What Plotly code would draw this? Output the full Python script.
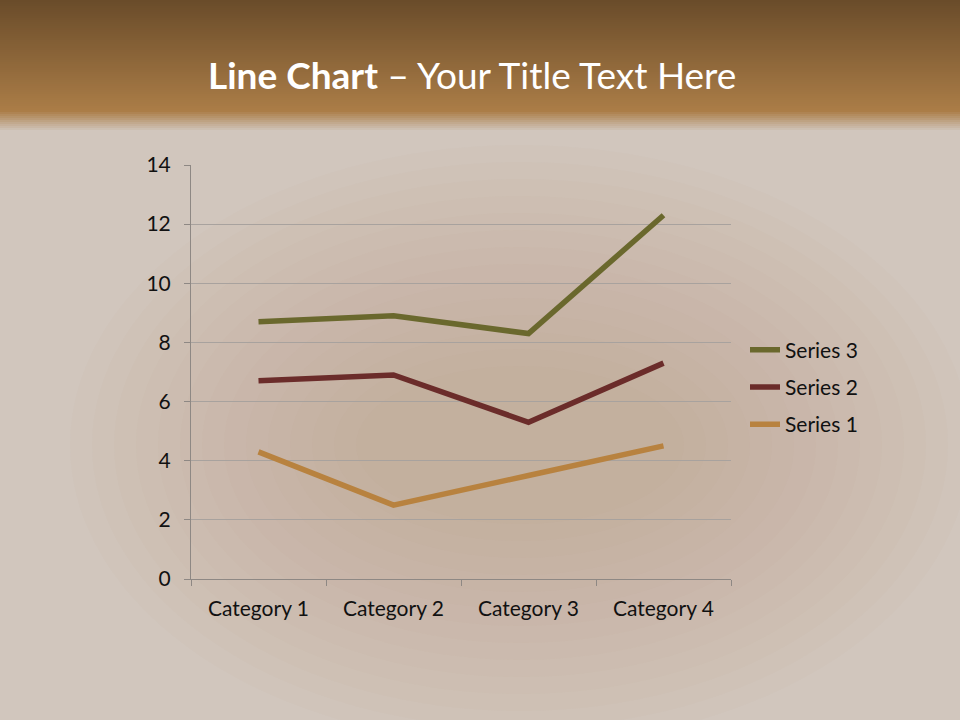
import plotly.graph_objects as go

categories = ["Category 1", "Category 2", "Category 3", "Category 4"]
series_names = ["Series 1", "Series 2", "Series 3"]
series1 = [4.3, 2.5, 3.5, 4.5]
series2 = [2.4, 4.4, 1.8, 2.8]
series3 = [2.0, 2.0, 3.0, 5.0]
series_values = [series1, series2, series3]
series_colors = ["#B8823F", "#6B2C2A", "#6A682D"]
y_ticks = [0, 2, 4, 6, 8, 10, 12, 14]

W, H = 960, 720
L, R, T, B = 191, 229, 165, 141
PW, PH = W - L - R, H - T - B

def px_x(x):
    return (x - L) / PW

def px_y(y):
    return (H - B - y) / PH

def lerp(c1, c2, t):
    return "#%02x%02x%02x" % tuple(round(a + (b - a) * t) for a, b in zip(c1, c2))

fig = go.Figure()
n = len(series_names)
for i, (name, vals, col) in enumerate(zip(series_names, series_values, series_colors)):
    fig.add_trace(go.Scatter(
        x=categories, y=vals, name=name, mode="lines",
        stackgroup="one", fill="none", legendgroup=name, legendrank=1000 + n - i,
        line=dict(color=col, width=5.5),
        hoverinfo="skip",
    ))

shapes = []
# soft brown tint in middle
for i in range(14):
    dx = 30 + i * 22
    dy = 15 + i * 17
    shapes.append(dict(type="circle", xref="paper", yref="paper", layer="below",
                       x0=px_x(40 + dx), x1=px_x(960 - dx + 40), y0=px_y(720 - dy + 40), y1=px_y(130 + dy),
                       fillcolor="#A8845C", opacity=0.028, line=dict(width=0)))
# header gradient
top = (0x6A, 0x4C, 0x2A)
mid = (0xAB, 0x7D, 0x47)
bg = (0xD1, 0xC6, 0xBD)
step = 2
for y in range(0, 112, step):
    t = y / 110
    shapes.append(dict(type="rect", xref="paper", yref="paper", layer="below",
                       x0=px_x(0), x1=px_x(W), y0=px_y(y + step + 0.5), y1=px_y(y),
                       fillcolor=lerp(top, mid, t), line=dict(width=0)))
for i, y in enumerate(range(112, 132, 2)):
    t = (i + 1) / 10
    shapes.append(dict(type="rect", xref="paper", yref="paper", layer="below",
                       x0=px_x(0), x1=px_x(W), y0=px_y(y + 2.5), y1=px_y(y),
                       fillcolor=lerp(mid, bg, t), line=dict(width=0)))

fig.update_layout(
    width=W, height=H,
    margin=dict(l=L, r=R, t=T, b=B, pad=0),
    paper_bgcolor="#D1C6BD",
    plot_bgcolor="rgba(0,0,0,0)",
    font=dict(family="Lato, Carlito, Calibri, sans-serif", size=21, color="#111111"),
    shapes=shapes,
    showlegend=True,
    legend=dict(
        x=px_x(745), y=px_y(387), xanchor="left", yanchor="middle",
        traceorder="grouped", bgcolor="rgba(0,0,0,0)",
        font=dict(size=21, color="#111111"), tracegroupgap=7,
    ),
    annotations=[dict(
        xref="paper", yref="paper", x=px_x(472), y=px_y(75),
        xanchor="center", yanchor="middle", showarrow=False,
        text="<b>Line Chart</b> – Your Title Text Here",
        font=dict(family="Lato, Carlito, Calibri, sans-serif", size=37, color="#FFFFFF"),
    )],
)
fig.update_xaxes(
    type="category", showgrid=False, showline=True, linecolor="#8E8884", linewidth=1,
    ticks="outside", tickson="boundaries", ticklen=6, tickcolor="#8E8884",
    tickfont=dict(size=21), range=[-0.5, 3.5], ticklabelstandoff=11,
)
fig.update_yaxes(
    range=[0, 14], tickvals=y_ticks, showgrid=True, gridcolor="#A8A29E", gridwidth=1,
    showline=True, linecolor="#8E8884", linewidth=1, ticks="outside", ticklen=6,
    tickcolor="#8E8884", tickfont=dict(size=21), zeroline=False, ticklabelstandoff=9,
)
fig.write_html("out.html", config={"displayModeBar": False},
               post_script="document.body.style.margin='0';document.body.style.padding='0';")
